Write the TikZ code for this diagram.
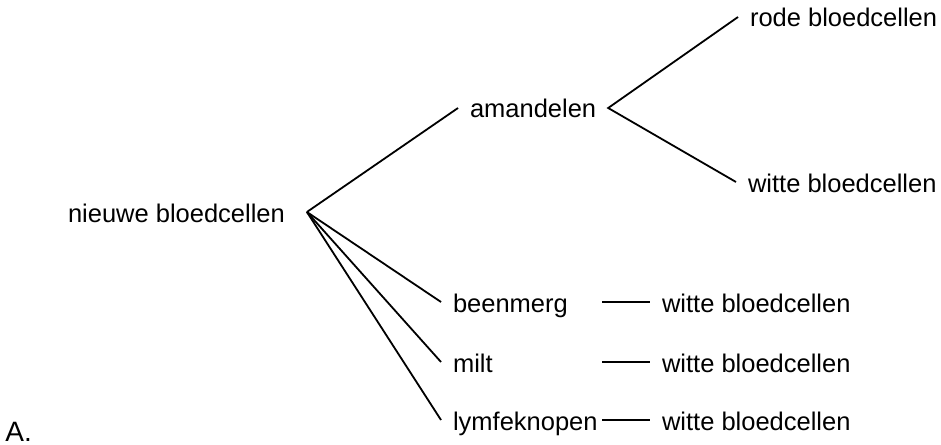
\documentclass[tikz,border=0pt]{standalone}
\usepackage{fontspec}
\setmainfont{Liberation Sans}
\usepackage{tikz}
\usetikzlibrary{positioning}

\begin{document}
\begin{tikzpicture}
    [
        x=0.5pt, y=-0.5pt,
        font=\fontsize{12.75}{15}\selectfont,
        cell_label/.style={anchor=base west, inner sep=0pt, outer xsep=6pt, text height=12pt, text depth=2pt},
        branch/.style={line width=0.9pt, color=black},
    ]
        \useasboundingbox (0,0) rectangle (941,444);
        \node[cell_label] (nieuw) at (56,222) {nieuwe bloedcellen} ;
        \node[cell_label] (amandel) at (458,118) {amandelen} ;
        \node[cell_label] (rode) at (738,27) {rode bloedcellen} ;
        \node[cell_label] (witA) at (736,192) {witte bloedcellen} ;
        \node[cell_label] (been) at (441,312) {beenmerg} ;
        \node[cell_label] (milt) at (441,372) {milt} ;
        \node[cell_label] (lymf) at (441,430) {lymfeknopen} ;
        \node[cell_label] (witB) at (650,312) {witte bloedcellen} ;
        \node[cell_label] (witC) at (650,372) {witte bloedcellen} ;
        \node[cell_label] (witD) at (650,430) {witte bloedcellen} ;
        \node[anchor=base west, inner sep=0pt, font=\fontsize{14}{16}\selectfont] (letter) at (5,441) {A.} ;
        \coordinate (hub) at ([xshift=5pt]nieuw.east) ;
        \draw[branch] (hub) to (amandel.west) ;
        \draw[branch] (hub) to (been.west) ;
        \draw[branch] (hub) to (milt.west) ;
        \draw[branch] (hub) to (lymf.west) ;
        \draw[branch] (rode.west) to (amandel.east) to (witA.west) ;
        \draw[branch] ([xshift=-24pt]witB.west) to (witB.west) ;
        \draw[branch] ([xshift=-24pt]witC.west) to (witC.west) ;
        \draw[branch] ([xshift=-24pt]witD.west) to (witD.west) ;
    \end{tikzpicture}
\end{document}
